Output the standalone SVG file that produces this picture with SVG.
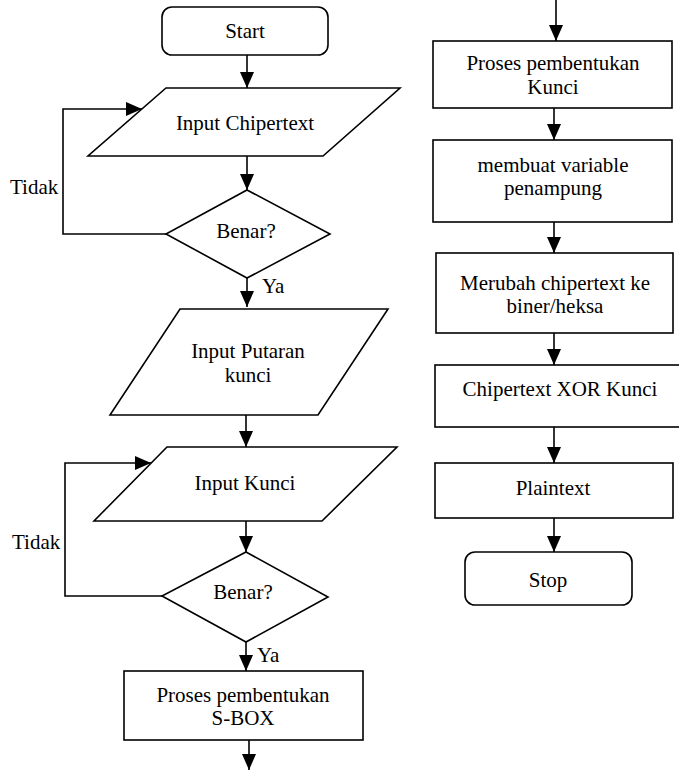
<svg xmlns="http://www.w3.org/2000/svg" width="679" height="772" viewBox="0 0 679 772">
<style>
.s{fill:#fff;stroke:#000;stroke-width:1.6}
.c{fill:none;stroke:#000;stroke-width:1.6}
text{font-family:'Liberation Serif','Times New Roman',Tinos,'Nimbus Roman','Nimbus Roman No9 L',FreeSerif,'Noto Serif','DejaVu Serif',Times,serif;font-size:21px;fill:#000}
.m{text-anchor:middle}
</style>
<defs>
<marker id="ah" markerUnits="userSpaceOnUse" markerWidth="16" markerHeight="14" refX="16" refY="7" orient="auto">
<path d="M0,0 L16,7 L0,14 z" fill="#000"/>
</marker>
</defs>
<rect width="679" height="772" fill="#fff"/>
<g id="connectors">
<path class="c" d="M247,55 V88" marker-end="url(#ah)"/>
<path class="c" d="M247,156 V190" marker-end="url(#ah)"/>
<path class="c" d="M166,234 H63 V109 H142" marker-end="url(#ah)"/>
<path class="c" d="M247,278 V307" marker-end="url(#ah)"/>
<path class="c" d="M246,415 V447" marker-end="url(#ah)"/>
<path class="c" d="M246,521 V552" marker-end="url(#ah)"/>
<path class="c" d="M162,596 H65 V463 H151" marker-end="url(#ah)"/>
<path class="c" d="M246,642 V671" marker-end="url(#ah)"/>
<path class="c" d="M249,740 V770" marker-end="url(#ah)"/>
<path class="c" d="M556,0 V41" marker-end="url(#ah)"/>
<path class="c" d="M554,108 V140" marker-end="url(#ah)"/>
<path class="c" d="M554,222 V253" marker-end="url(#ah)"/>
<path class="c" d="M554,333 V365" marker-end="url(#ah)"/>
<path class="c" d="M554,427 V463" marker-end="url(#ah)"/>
<path class="c" d="M554,518 V552" marker-end="url(#ah)"/>
<text x="10" y="194">Tidak</text>
<text x="262" y="293">Ya</text>
<text x="12" y="549">Tidak</text>
<text x="257" y="662">Ya</text>
</g>
<g id="start">
<rect class="s" x="162" y="7" width="166" height="48" rx="10"/>
<text class="m" x="245" y="38">Start</text>
</g>
<g id="input-chipertext">
<polygon class="s" points="166,88 400,88 323,156 88,156"/>
<text class="m" x="245" y="130">Input Chipertext</text>
</g>
<g id="benar1">
<polygon class="s" points="247,190 330,234 247,278 166,234"/>
<text class="m" x="246" y="238">Benar?</text>
</g>
<g id="input-putaran">
<polygon class="s" points="180,309 388,309 318,415 110,415"/>
<text class="m" x="248" y="358">Input Putaran</text>
<text class="m" x="248" y="382">kunci</text>
</g>
<g id="input-kunci">
<polygon class="s" points="167,447 397,447 322,521 94,521"/>
<text class="m" x="245" y="490">Input Kunci</text>
</g>
<g id="benar2">
<polygon class="s" points="246,552 328,597 246,642 162,596"/>
<text class="m" x="243" y="599">Benar?</text>
</g>
<g id="sbox">
<rect class="s" x="124" y="671" width="239" height="69"/>
<text class="m" x="243" y="702">Proses pembentukan</text>
<text class="m" x="243" y="725">S-BOX</text>
</g>
<g id="kunci">
<rect class="s" x="433" y="41" width="239" height="67"/>
<text class="m" x="553" y="70">Proses pembentukan</text>
<text class="m" x="553" y="94">Kunci</text>
</g>
<g id="variable">
<rect class="s" x="433" y="140" width="239" height="82"/>
<text class="m" x="553" y="172">membuat variable</text>
<text class="m" x="553" y="195">penampung</text>
</g>
<g id="merubah">
<rect class="s" x="436" y="253" width="237" height="80"/>
<text class="m" x="555" y="290">Merubah chipertext ke</text>
<text class="m" x="555" y="313">biner/heksa</text>
</g>
<g id="xor">
<rect class="s" x="435" y="365" width="246" height="62"/>
<text class="m" x="560" y="396">Chipertext XOR Kunci</text>
</g>
<g id="plaintext">
<rect class="s" x="435" y="463" width="238" height="55"/>
<text class="m" x="553" y="495">Plaintext</text>
</g>
<g id="stop">
<rect class="s" x="465" y="552" width="167" height="53" rx="10"/>
<text class="m" x="548" y="587">Stop</text>
</g>
</svg>
